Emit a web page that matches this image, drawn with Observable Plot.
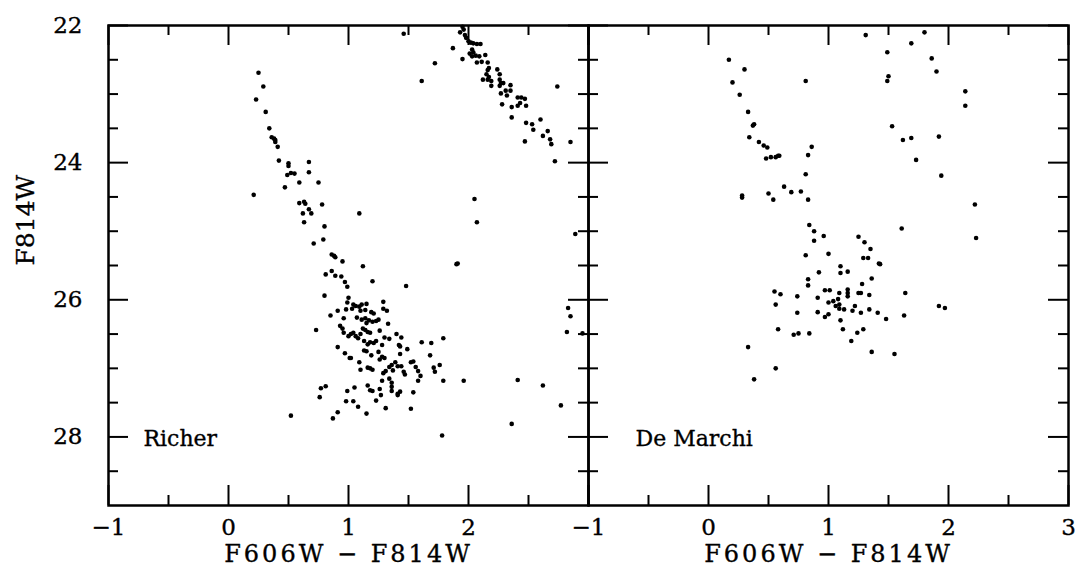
<!DOCTYPE html>
<html>
<head>
<meta charset="utf-8">
<script src="https://cdn.jsdelivr.net/npm/d3@7"></script>
<script src="https://cdn.jsdelivr.net/npm/@observablehq/plot@0.6"></script>
<style>
  html, body { margin: 0; padding: 0; background: #fff; }
  #chart svg { display: block; overflow: visible; }
</style>
</head>
<body>
<div id="chart"></div>
<script>
// Panels (categories)
const panels = ["Richer", "De Marchi"];

// Richer panel: [F606W - F814W, F814W]
const richerPoints = [
  [0.25,22.69],[0.29,22.89],[0.23,23.08],[0.31,23.26],[0.34,23.50],[0.36,23.63],[0.38,23.65],[0.39,23.67],
  [0.39,23.70],[0.41,23.77],[0.42,23.97],[0.50,24.01],[0.50,24.05],[0.52,24.15],[0.55,24.16],[0.49,24.18],
  [0.59,24.29],[0.47,24.36],[0.21,24.47],[0.67,23.99],[0.67,24.14],[0.75,24.29],[0.59,24.59],[0.63,24.57],
  [0.64,24.60],[0.67,24.68],[0.62,24.74],[0.69,24.74],[0.63,24.87],[0.78,24.61],[0.80,24.93],[0.79,25.12],
  [0.71,25.18],[0.86,25.34],[0.88,25.36],[0.89,25.38],[0.95,25.44],
  [1.46,22.12],[1.95,22.02],[1.96,22.06],[1.93,22.10],[1.97,22.14],[1.98,22.18],[2.00,22.23],[2.02,22.25],
  [2.04,22.26],[2.07,22.27],[2.10,22.27],[1.87,22.33],[1.72,22.55],[1.61,22.81],[1.95,22.49],[2.03,22.35],
  [2.04,22.39],[2.01,22.41],[2.03,22.45],[2.06,22.44],[2.09,22.45],[2.14,22.43],[2.07,22.54],[2.11,22.53],
  [2.16,22.54],[2.17,22.62],[2.16,22.65],[2.24,22.64],[2.26,22.71],[2.15,22.71],[2.17,22.75],[2.12,22.79],
  [2.16,22.79],[2.19,22.81],[2.26,22.79],[2.27,22.84],[2.29,22.84],[2.19,22.88],[2.26,22.88],[2.35,22.87],
  [2.31,22.95],[2.35,22.95],[2.27,22.99],[2.32,23.02],[2.41,23.05],[2.44,23.05],[2.47,23.07],[2.43,23.13],
  [2.41,23.17],[2.48,23.17],[2.28,23.15],[2.36,23.19],[2.36,23.34],[2.48,23.42],[2.53,23.44],[2.60,23.37],
  [2.54,23.52],[2.66,23.54],[2.62,23.61],[2.68,23.66],[2.69,23.73],[2.47,23.69],[2.74,22.89],[2.85,23.70],
  [2.72,23.98],[2.05,24.53],[2.07,24.87],[1.09,24.74],[2.89,25.04],[1.91,25.47],
  [0.81,25.63],[0.86,25.58],[0.89,25.65],[0.94,25.66],[0.97,25.74],[0.99,25.81],[0.80,25.94],[1.00,25.97],
  [0.99,26.04],[0.98,26.14],[0.91,26.16],[0.85,26.23],[0.96,26.27],[0.73,26.44],[0.93,26.38],[0.95,26.42],
  [0.96,26.48],[1.00,26.53],[0.91,26.69],[0.97,26.78],[1.01,26.85],[0.77,27.29],[0.81,27.26],[0.76,27.42],
  [0.99,27.33],[0.98,27.48],[0.91,27.64],[0.87,27.73],[0.52,27.69],
  [1.12,25.51],[1.90,25.48],[1.20,25.73],[1.48,25.80],[1.04,26.07],[1.06,26.09],[1.09,26.10],[1.11,26.07],
  [1.15,26.06],[1.03,26.13],[1.10,26.16],[1.14,26.15],[1.19,26.18],[1.21,26.20],[1.29,26.03],[1.29,26.13],
  [1.32,26.16],[1.07,26.26],[1.11,26.29],[1.14,26.27],[1.17,26.30],[1.20,26.32],[1.23,26.31],[1.25,26.29],
  [1.15,26.34],[1.33,26.35],[1.02,26.50],[1.04,26.48],[1.06,26.53],[1.08,26.56],[1.10,26.50],[1.12,26.42],
  [1.14,26.44],[1.16,26.47],[1.18,26.48],[1.26,26.45],[1.30,26.55],[1.34,26.57],[1.40,26.50],[1.44,26.55],
  [1.13,26.60],[1.16,26.65],[1.18,26.62],[1.21,26.63],[1.23,26.60],[1.28,26.66],[1.42,26.66],[1.43,26.68],
  [1.49,26.72],[1.61,26.62],[1.69,26.63],[1.79,26.56],[1.02,26.85],[1.09,26.91],[1.13,26.74],[1.15,26.75],
  [1.19,26.81],[1.25,26.76],[1.26,26.87],[1.28,26.83],[1.30,26.85],[1.43,26.79],[1.68,26.81],[1.10,27.02],
  [1.16,26.99],[1.18,27.00],[1.20,27.02],[1.29,27.07],[1.31,27.04],[1.34,26.98],[1.36,26.95],[1.37,27.03],
  [1.39,26.91],[1.41,26.97],[1.44,26.97],[1.46,27.05],[1.47,27.09],[1.52,26.91],[1.54,26.90],[1.56,26.98],
  [1.58,27.04],[1.60,27.11],[1.58,27.18],[1.71,26.99],[1.72,27.05],[1.76,26.95],[1.79,27.18],[1.96,27.18],
  [1.28,27.18],[1.34,27.15],[1.36,27.21],[1.16,27.25],[1.18,27.32],[1.20,27.33],[1.26,27.30],[1.27,27.39],
  [1.36,27.27],[1.36,27.33],[1.41,27.37],[1.43,27.34],[1.41,27.39],[1.54,27.35],[1.05,27.28],[1.04,27.48],
  [1.08,27.56],[1.15,27.66],[1.23,27.47],[1.31,27.58],[1.52,27.59],[1.78,27.98],[2.41,27.17],[2.62,27.25],
  [2.36,27.81],[2.77,27.54],[2.83,26.12],[2.85,26.24],[2.82,26.47],[2.95,26.49]
];

// De Marchi panel: [F606W - F814W, F814W]
const deMarchiPoints = [
  [0.17,22.50],[0.30,22.64],[0.20,22.83],[0.26,23.01],[0.33,23.26],[0.37,23.46],[0.38,23.44],[0.34,23.63],
  [0.42,23.70],[0.46,23.75],[0.49,23.78],[0.48,23.94],[0.52,23.92],[0.56,23.92],[0.58,23.90],[0.59,23.90],
  [0.81,22.81],[0.86,23.77],[0.83,23.89],[0.81,24.17],[0.63,24.35],[0.69,24.43],[0.77,24.42],[0.50,24.45],
  [0.54,24.54],[0.28,24.48],[0.28,24.51],[0.83,24.54],[0.84,24.91],[0.88,25.00],[0.96,25.07],[0.88,25.14],
  [0.81,25.35],[1.00,25.33],
  [1.31,22.14],[1.80,22.10],[1.69,22.26],[1.49,22.39],[1.86,22.48],[1.90,22.67],[1.50,22.74],[1.49,22.81],
  [2.14,22.96],[2.14,23.17],[1.53,23.47],[1.62,23.67],[1.69,23.64],[1.92,23.62],[1.73,23.96],[1.94,24.19],
  [2.22,24.61],[1.61,24.96],[2.23,25.10],[1.25,25.08],[1.30,25.16],[1.35,25.26],[1.29,25.39],[1.33,25.39],
  [1.42,25.47],
  [0.92,25.60],[0.83,25.70],[0.83,25.79],[0.55,25.88],[0.60,25.92],[0.74,25.95],[0.91,25.97],[0.97,25.86],
  [1.00,26.04],[0.56,26.07],[0.74,26.19],[0.91,26.18],[0.97,26.25],[1.00,26.21],[0.58,26.43],[0.71,26.51],
  [0.75,26.49],[0.84,26.49],[0.33,26.69],[0.56,27.00],[0.38,27.16],
  [1.10,25.51],[1.10,25.61],[1.16,25.59],[1.43,25.48],[1.36,25.69],[1.28,25.77],[1.01,25.86],[1.09,25.90],
  [1.16,25.85],[1.16,25.90],[1.16,25.95],[1.25,25.90],[1.27,25.90],[1.34,25.93],[1.64,25.90],[1.04,26.02],
  [1.08,25.99],[1.06,26.09],[1.09,26.07],[1.09,26.13],[1.13,26.14],[1.20,26.16],[1.22,26.09],[1.27,26.19],
  [1.34,26.14],[1.41,26.19],[1.48,26.28],[1.63,26.23],[1.92,26.09],[1.97,26.12],[1.10,26.30],[1.12,26.43],
  [1.24,26.48],[1.29,26.43],[1.19,26.60],[1.36,26.76],[1.55,26.79]
];

// Tick values and labels
const xMajorTicks = [-1, 0, 1, 2, 3];
const xMinorTicks = [-0.5, 0.5, 1.5, 2.5];
const yMajorTicks = [22, 24, 26, 28];
const yMinorTicks = [22.5, 23, 23.5, 24.5, 25, 25.5, 26.5, 27, 27.5, 28.5];
const xTickLabelsLeft = [-1, 0, 1, 2];
const xTickLabelsRight = [-1, 0, 1, 2, 3];
const yTickLabels = [22, 24, 26, 28];
const xTitle = "F606W − F814W";
const yTitle = "F814W";

// Build tables
const dots = [
  ...richerPoints.map(([c, m]) => ({panel: panels[0], color: c, mag: m})),
  ...deMarchiPoints.map(([c, m]) => ({panel: panels[1], color: c, mag: m}))
];
const fmt = v => (v < 0 ? "\u2212" + Math.abs(v) : String(v));
const xLabels = [
  ...xTickLabelsLeft.map(v => ({panel: panels[0], v, label: fmt(v)})),
  ...xTickLabelsRight.map(v => ({panel: panels[1], v, label: fmt(v)}))
];

const FONT = "DejaVu Serif";
const W = 1080, H = 583;
const mT = 25, mB = 78, mL = 108, mR = 12;
const panelH = H - mT - mB;           // 480
const panelW = (W - mL - mR) / 2;     // 480
const majorLen = 20, minorLen = 10;
const txt = {fontFamily: FONT, fill: "black", stroke: "black", strokeWidth: 0.35};

const chart = Plot.plot({
  width: W,
  height: H,
  marginTop: mT,
  marginBottom: mB,
  marginLeft: mL,
  marginRight: mR,
  style: {background: "#fff", color: "black"},
  fx: {domain: panels, padding: 0, axis: null, label: null},
  x: {domain: [-1, 3], axis: null},
  y: {domain: [22, 29], reverse: true, axis: null},
  marks: [
    // bottom ticks
    Plot.tickX(xMajorTicks, {x: d => d, insetTop: panelH - majorLen, stroke: "black", strokeWidth: 2}),
    Plot.tickX(xMinorTicks, {x: d => d, insetTop: panelH - minorLen, stroke: "black", strokeWidth: 2}),
    // top ticks
    Plot.tickX(xMajorTicks, {x: d => d, insetBottom: panelH - majorLen, stroke: "black", strokeWidth: 2}),
    Plot.tickX(xMinorTicks, {x: d => d, insetBottom: panelH - minorLen, stroke: "black", strokeWidth: 2}),
    // left ticks
    Plot.tickY(yMajorTicks, {y: d => d, insetRight: panelW - majorLen, stroke: "black", strokeWidth: 2}),
    Plot.tickY(yMinorTicks, {y: d => d, insetRight: panelW - minorLen, stroke: "black", strokeWidth: 2}),
    // right ticks
    Plot.tickY(yMajorTicks, {y: d => d, insetLeft: panelW - majorLen, stroke: "black", strokeWidth: 2}),
    Plot.tickY(yMinorTicks, {y: d => d, insetLeft: panelW - minorLen, stroke: "black", strokeWidth: 2}),
    // data
    Plot.dot(dots, {fx: "panel", x: "color", y: "mag", r: 2.3, fill: "black", stroke: "none"}),
    // frames
    Plot.frame({stroke: "black", strokeWidth: 2.5}),
    // x tick labels
    Plot.text(xLabels, {fx: "panel", x: "v", text: "label", frameAnchor: "bottom", dy: 29,
      fontSize: 23, ...txt}),
    // y tick labels
    Plot.text(yTickLabels, {fx: () => panels[0], y: d => d, text: d => String(d), frameAnchor: "left",
      dx: -26, textAnchor: "end", fontSize: 23, ...txt}),
    // axis titles
    Plot.text(panels, {fx: d => d, text: () => xTitle, frameAnchor: "bottom", dy: 56,
      fontSize: 24, ...txt}),
    Plot.text([yTitle], {fx: () => panels[0], text: d => d, frameAnchor: "left", dx: -83, rotate: -90,
      fontSize: 25, ...txt}),
    // panel labels
    Plot.text([panels[0]], {fx: d => d, text: d => d, frameAnchor: "bottom-left", dx: 35, dy: -60,
      textAnchor: "start", fontSize: 22, ...txt}),
    Plot.text([panels[1]], {fx: d => d, text: d => d, frameAnchor: "bottom-left", dx: 47, dy: -60,
      textAnchor: "start", fontSize: 22, ...txt})
  ]
});
document.getElementById("chart").appendChild(chart);
// letter spacing for axis titles
chart.querySelectorAll("text").forEach(t => {
  if (t.textContent === xTitle) t.setAttribute("letter-spacing", "3");
});
</script>
</body>
</html>
